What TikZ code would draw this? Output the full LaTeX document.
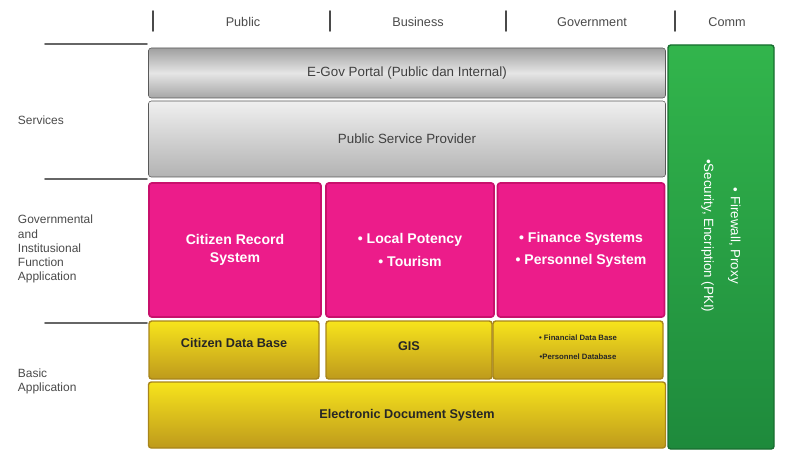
\documentclass[tikz,border=0pt]{standalone}
\usepackage{fontspec}
\setmainfont{Liberation Sans}
\usetikzlibrary{positioning}

\definecolor{txtgray}{HTML}{4A4A4A}
\definecolor{pinkmid}{HTML}{EC1C8A}
\definecolor{pinkedge}{HTML}{C8106C}
\definecolor{yelltop}{HTML}{F7E41C}
\definecolor{yellbot}{HTML}{BE9A1C}
\definecolor{yelledge}{HTML}{A8851A}
\definecolor{greentop}{HTML}{32B54C}
\definecolor{greenbot}{HTML}{1E8A3C}

\begin{document}
\begin{tikzpicture}[x=0.025cm,y=-0.025cm,line cap=round,line join=round,
	sz/.style 2 args={minimum width=#1*0.025cm, minimum height=#2*0.025cm, inner sep=0pt},
	graybox/.style={rounded corners=2pt, draw=gray!70!black, top color=gray!75, bottom color=gray!70, middle color=gray!20, text=black!75, font=\fontsize{9.5}{11}\selectfont},
	pinkbox/.style={rounded corners=2pt, draw=pinkedge, line width=1.2pt, fill=pinkmid, text=white, align=center, font=\bfseries\fontsize{10}{16}\selectfont},
	yellbox/.style={rounded corners=2pt, draw=yelledge, line width=1pt, top color=yelltop, bottom color=yellbot},
	yelltext/.style={text=black!85, align=center, font=\bfseries\fontsize{9}{11}\selectfont},
	sidelabel/.style={anchor=west, align=left, text=txtgray, font=\fontsize{8.5}{10}\selectfont},
	headlabel/.style={text=txtgray, font=\fontsize{9}{11}\selectfont}]
	\useasboundingbox (0,0) rectangle (790,459);

	% column heads
	\foreach \x in {153,330,506,675}
		\draw[line width=1.3pt, txtgray] (\x,11) -- (\x,31);
	\node[headlabel] (hpublic) at (243,22) {Public};
	\node[headlabel] (hbusiness) at (418,22) {Business};
	\node[headlabel] (hgov) at (592,22) {Government};
	\node[headlabel] (hcomm) at (727,22) {Comm};

	% row separators on the left
	\foreach \y in {44,179,323}
		\draw[line width=1.3pt, gray!80!black] (45,\y) -- (147,\y);
	\node[sidelabel] (lservices) at (13,120) {Services};
	\node[sidelabel] (lgov) at (13,249) {Governmental\\and\\Institusional\\Function\\Application};
	\node[sidelabel] (lbasic) at (13,381) {Basic\\Application};

	% services
	\node[graybox, sz={517}{50}] (egov) at (407,73) {E-Gov Portal (Public dan Internal)};
	\node[graybox, sz={517}{76}, top color=gray!12, middle color=gray!30, bottom color=gray!60] (psp) at (407,139) {Public Service Provider};

	% function applications
	\node[pinkbox, sz={172}{134}, font=\bfseries\fontsize{10}{13}\selectfont] (citrec) at (235,250) {Citizen Record\\System};
	\node[pinkbox, sz={168}{134}] (local) at (410,250) {\textbullet{} Local Potency\\\textbullet{} Tourism};
	\node[pinkbox, sz={167}{134}] (finance) at (581,250) {\textbullet{} Finance Systems\\\textbullet{} Personnel System};

	% basic applications
	\node[yellbox, sz={170}{58}] (citdb) at (234,350) {};
	\node[yellbox, sz={166}{58}] (gis) at (409,350) {};
	\node[yellbox, sz={170}{58}] (findb) at (578,350) {};
	\node[yellbox, sz={517}{66}] (eds) at (407,415) {};
	\node[yelltext] (citdbtxt) at ([yshift=5pt]citdb.center) {Citizen Data Base};
	\node[yelltext] (gistxt) at ([yshift=3pt]gis.center) {GIS};
	\node[yelltext, font=\bfseries\fontsize{5.5}{13}\selectfont] (findbtxt) at ([yshift=2pt]findb.center) {\textbullet{} Financial Data Base\\\textbullet{}Personnel Database};
	\node[yelltext] (edstxt) at (eds.center) {Electronic Document System};

	% communication
	\node[rounded corners=2pt, draw=greenbot!80!black, line width=1pt, top color=greentop, bottom color=greenbot, sz={106}{404}] (comm) at (721,247) {};
	\node[rotate=-90, text=white, align=center, font=\fontsize{9.5}{19}\selectfont] (commtxt) at ([yshift=8pt]comm.center) {\textbullet{} Firewall, Proxy\\\textbullet{}Security, Encription (PKI)};
\end{tikzpicture}
\end{document}
